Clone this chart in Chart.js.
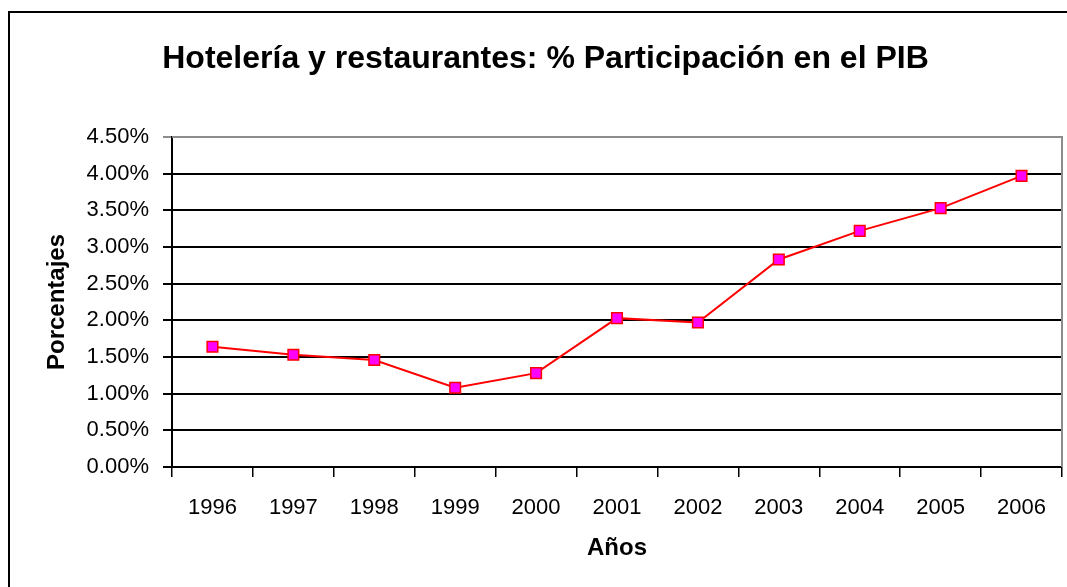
<!DOCTYPE html>
<html>
<head>
<meta charset="utf-8">
<script src="https://cdn.jsdelivr.net/npm/chart.js@4.4.1/dist/chart.umd.min.js"></script>
<style>
  html, body { margin: 0; padding: 0; background: #fff; }
  #wrap { width: 1067px; height: 587px; }
</style>
</head>
<body>
<div id="wrap"><canvas id="chart" width="1067" height="587"></canvas></div>
<script>
// data
const years = ["1996", "1997", "1998", "1999", "2000", "2001", "2002", "2003", "2004", "2005", "2006"];
const participacion = [1.64, 1.53, 1.46, 1.08, 1.28, 2.03, 1.97, 2.83, 3.22, 3.53, 3.97];
const yTicks = [0, 0.5, 1, 1.5, 2, 2.5, 3, 3.5, 4, 4.5];

const FONT = "'Liberation Sans', Arial, sans-serif";

// outer frame + grey plot border (top/right)
const frame = {
  id: "frame",
  beforeDraw(chart) {
    const ctx = chart.ctx;
    ctx.save();
    ctx.fillStyle = "#fff";
    ctx.fillRect(0, 0, chart.width, chart.height);
    ctx.strokeStyle = "#000";
    ctx.lineWidth = 2;
    ctx.strokeRect(9, 12, chart.width + 20, chart.height + 20);
    ctx.restore();
  },
  beforeDatasetsDraw(chart) {
    const a = chart.chartArea;
    const ctx = chart.ctx;
    ctx.save();
    ctx.strokeStyle = "#8c8c8c";
    ctx.lineWidth = 2;
    ctx.beginPath();
    ctx.moveTo(a.left, a.top);
    ctx.lineTo(a.right, a.top);
    ctx.lineTo(a.right, a.bottom);
    ctx.stroke();
    ctx.restore();
  }
};

new Chart(document.getElementById("chart"), {
  type: "line",
  data: {
    labels: years,
    datasets: [{
      label: "Participación",
      data: participacion,
      borderColor: "#ff0000",
      borderWidth: 2,
      tension: 0,
      pointStyle: "rect",
      pointRadius: 7.5,
      pointHoverRadius: 7.5,
      pointBackgroundColor: "#ff00ff",
      pointBorderColor: "#ff0000",
      pointBorderWidth: 1.5
    }]
  },
  options: {
    responsive: false,
    animation: false,
    layout: { autoPadding: false, padding: { top: 0, right: 5, bottom: 0, left: 29 } },
    plugins: {
      legend: { display: false },
      tooltip: { enabled: false },
      title: {
        display: true,
        text: "Hotelería y restaurantes: % Participación en el PIB",
        color: "#000",
        font: { family: FONT, size: 32, weight: "bold", lineHeight: 1.2 },
        padding: { top: 40, bottom: 58.6 }
      }
    },
    scales: {
      x: {
        offset: true,
        afterFit(scale) {
          scale.height = 120;
          scale.paddingLeft = 0;
          scale.paddingRight = 0;
        },
        grid: {
          offset: true,
          drawOnChartArea: false,
          drawTicks: true,
          tickLength: 10,
          color: "#000",
          lineWidth: 1.5
        },
        border: { display: true, color: "#000", width: 2 },
        ticks: {
          color: "#000",
          padding: 18,
          maxRotation: 0,
          font: { family: FONT, size: 22 }
        },
        title: {
          display: true,
          text: "Años",
          color: "#000",
          font: { family: FONT, size: 24, weight: "bold", lineHeight: 1.2 },
          padding: { top: 0, bottom: 24 }
        }
      },
      y: {
        min: 0,
        max: 4.5,
        afterFit(scale) { scale.width = 143; },
        afterBuildTicks(scale) { scale.ticks = yTicks.map(v => ({ value: v })); },
        grid: {
          drawTicks: true,
          tickLength: 9,
          color: (c) => (c.tick && c.tick.value === 4.5 ? "#8c8c8c" : "#000"),
          lineWidth: 2
        },
        border: { display: true, color: "#000", width: 2 },
        ticks: {
          color: "#000",
          padding: 14,
          font: { family: FONT, size: 22 },
          callback: (v) => Number(v).toFixed(2) + "%"
        },
        title: {
          display: true,
          text: "Porcentajes",
          color: "#000",
          font: { family: FONT, size: 24, weight: "bold", lineHeight: 1.2 },
          padding: { top: 14, bottom: 0 }
        }
      }
    }
  },
  plugins: [frame]
});
</script>
</body>
</html>
